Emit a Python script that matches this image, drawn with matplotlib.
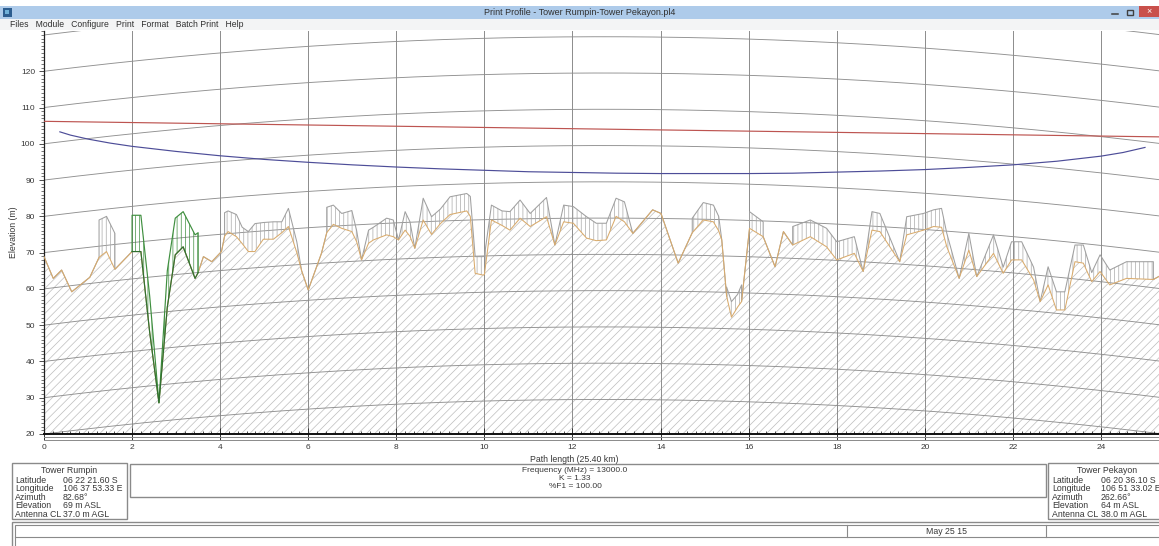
import numpy as np
import matplotlib
matplotlib.use("Agg")
import matplotlib.pyplot as plt
from matplotlib.patches import Rectangle
from matplotlib.lines import Line2D

plt.rcParams['font.family'] = ['Liberation Sans', 'DejaVu Sans']
plt.rcParams['hatch.linewidth'] = 0.5

W, H = 1159, 546

# ---------------- data ----------------
dist_km = [0.00, 0.21, 0.40, 0.63, 1.04, 1.25, 1.25, 1.42, 1.61, 1.61,
           2.00, 2.00, 2.20, 2.40, 2.61, 2.80, 2.98, 3.16, 3.43, 3.50, 3.50,
           3.62, 3.81, 4.03, 4.10, 4.10, 4.18, 4.37, 4.50, 4.64, 4.79, 4.98,
           5.21, 5.40, 5.55, 5.74, 5.85, 6.00, 6.30, 6.42, 6.42, 6.57, 6.76,
           6.99, 7.10, 7.21, 7.37, 7.48, 7.78, 7.93, 8.05, 8.20, 8.31, 8.42,
           8.61, 8.80, 9.00, 9.22, 9.60, 9.68, 9.79, 9.97, 10.00, 10.16,
           10.40, 10.58, 10.81, 11.04, 11.41, 11.60, 11.80, 12.02, 12.32,
           12.54, 12.77, 12.99, 13.18, 13.37, 13.82, 14.01, 14.40, 14.72,
           14.72, 14.97, 15.20, 15.32, 15.39, 15.50, 15.50, 15.61, 15.75,
           15.84, 15.84, 16.02, 16.02, 16.33, 16.33, 16.60, 16.79, 17.00,
           17.00, 17.40, 17.77, 18.00, 18.40, 18.60, 18.80, 18.98, 19.43,
           19.59, 19.97, 20.20, 20.38, 20.50, 20.78, 21.00, 21.18, 21.56,
           21.78, 21.97, 22.20, 22.47, 22.62, 22.80, 22.99, 23.18, 23.41,
           23.60, 23.79, 23.98, 24.20, 24.58, 25.19, 25.19, 25.40]
terrain_m = [68.9, 62.9, 65.2, 59.2, 63.2, 68.7, 68.7, 70.3, 65.4, 65.4,
             70.3, 70.3, 70.3, 48.0, 28.6, 55.0, 69.4, 71.6, 62.9, 64.5, 64.5,
             68.9, 67.5, 70.3, 74.5, 74.5, 75.8, 74.4, 72.5, 70.3, 70.3, 73.7,
             73.7, 75.5, 77.2, 70.0, 65.0, 59.7, 69.8, 75.5, 75.5, 77.8, 76.7,
             75.8, 73.0, 68.0, 72.6, 73.5, 74.9, 74.4, 73.5, 76.2, 74.5, 71.2,
             79.0, 75.0, 78.0, 80.5, 81.5, 80.0, 64.3, 63.8, 64.0, 79.0,
             77.5, 76.2, 79.5, 77.2, 79.9, 72.1, 78.5, 78.1, 74.0,
             73.3, 73.5, 80.0, 78.5, 75.3, 81.8, 80.8, 67.1, 75.5,
             75.5, 79.0, 78.5, 76.0, 73.5, 58.0, 58.0, 52.2, 55.0,
             56.5, 56.5, 76.7, 76.7, 74.4, 74.4, 66.1, 75.8, 72.1,
             72.1, 74.4, 71.6, 68.0, 69.8, 64.8, 76.2, 75.8, 67.5,
             74.9, 76.2, 77.2, 77.0, 71.6, 62.9, 70.7, 63.4, 69.8,
             64.3, 68.0, 68.0, 62.5, 56.5, 61.1, 54.2, 54.2, 67.5,
             67.1, 62.0, 64.8, 61.1, 62.9, 62.6, 62.6, 64.0]
clutter_top_m = [68.9, 62.9, 65.2, 59.2, 63.2, 68.7, 79.0, 80.0, 75.3, 65.4,
                 70.3, 80.3, 80.3, 58.0, 28.6, 65.0, 79.5, 81.3, 74.9, 75.5, 64.5,
                 68.9, 67.5, 70.3, 74.5, 81.0, 81.5, 80.5, 77.0, 75.8, 78.0, 78.3,
                 78.5, 78.5, 82.2, 73.0, 65.0, 59.7, 69.8, 75.5, 82.5, 83.1, 80.8,
                 81.6, 76.0, 68.0, 76.2, 77.0, 79.5, 79.0, 73.5, 81.3, 78.5, 71.2,
                 85.0, 79.9, 82.0, 85.4, 86.3, 85.5, 68.9, 68.9, 69.0, 83.1,
                 81.5, 81.3, 84.5, 80.8, 85.2, 72.1, 83.1, 82.7, 79.9,
                 78.1, 78.1, 85.0, 84.0, 75.3, 81.8, 80.8, 67.1, 75.5,
                 79.5, 83.8, 83.1, 80.0, 73.5, 58.0, 60.5, 56.5, 58.5,
                 61.1, 56.5, 76.7, 81.3, 78.5, 74.4, 66.1, 75.8, 72.1,
                 77.2, 79.0, 76.7, 73.0, 74.4, 64.8, 81.3, 80.8, 67.5,
                 79.9, 80.8, 81.8, 82.2, 75.3, 62.9, 75.3, 63.4, 74.9,
                 66.0, 73.0, 73.0, 66.0, 56.5, 66.1, 59.2, 59.2, 72.1,
                 72.1, 64.5, 69.4, 65.2, 67.5, 67.5, 62.6, 64.0]
green_start_km, green_end_km = 2.0, 3.5

los_km = [0.0, 25.4]
los_m = [106.2, 101.9]

fresnel_km = [0.36, 0.6, 1, 1.5, 2, 3, 4, 5, 6, 7, 8, 9, 10, 11, 12, 13, 14,
              15, 16, 17, 18, 19, 20, 21, 22, 23, 24, 24.5, 25.0]
fresnel_m = [103.3, 102.4, 101.3, 100.2, 99.3, 97.9, 96.7, 95.7, 94.9, 94.2,
             93.6, 93.1, 92.7, 92.3, 92.1, 91.9, 91.8, 91.8, 91.8, 91.9, 92.2,
             92.5, 92.9, 93.5, 94.2, 95.2, 96.6, 97.6, 99.0]

x_ticks = list(range(0, 25, 2))
y_ticks = list(range(20, 121, 10))
path_km = 25.4
k_factor = 1.33

left_site = ["Tower Rumpin", "06 22 21.60 S", "106 37 53.33 E", "82.68\u00b0",
             "69 m ASL", "37.0 m AGL"]
right_site = ["Tower Pekayon", "06 20 36.10 S", "106 51 33.02 E", "262.66\u00b0",
              "64 m ASL", "38.0 m AGL"]
row_labels = ["Latitude", "Longitude", "Azimuth", "Elevation", "Antenna CL"]
center_lines = ["Frequency (MHz) = 13000.0", "K = 1.33", "%F1 = 100.00"]

# ---------------- figure ----------------
fig = plt.figure(figsize=(W / 100, H / 100), dpi=100)
fig.patch.set_facecolor('white')


def fx(px):
    return px / W


def fy(py):
    return 1 - py / H


def frect(x0, y0, x1, y1, **kw):
    fig.add_artist(Rectangle((fx(x0), fy(y1)), fx(x1) - fx(x0), fy(y0) - fy(y1),
                             transform=fig.transFigure, **kw))


def fline(xs, ys, **kw):
    fig.add_artist(Line2D([fx(v) for v in xs], [fy(v) for v in ys],
                          transform=fig.transFigure, **kw))


TXT = '#383838'
FS = 6.3

# window chrome
frect(0, 6, W, 19, facecolor='#aecbea', edgecolor='none')
frect(0, 19, W, 30, facecolor='#f3f4f5', edgecolor='none')
frect(3, 8, 12, 17, facecolor='#2c5d8f', edgecolor='none')
frect(5, 10, 9, 14, facecolor='#6fb0d8', edgecolor='none')
fig.text(fx(580), fy(12.5), "Print Profile - Tower Rumpin-Tower Pekayon.pl4",
         ha='center', va='center', fontsize=6.5, color='#303030')
fig.text(fx(10), fy(24.5), "Files   Module   Configure   Print   Format   Batch Print   Help",
         ha='left', va='center', fontsize=6.2, color='#303030')
fline([1112, 1118], [14, 14], color='#404040', lw=1.1)
frect(1127, 10, 1133, 15, facecolor='none', edgecolor='#404040', lw=1.0)
frect(1139, 6, W, 17, facecolor='#c9504b', edgecolor='none')
fig.text(fx(1149), fy(11.5), "\u00d7", ha='center', va='center', fontsize=6.5, color='white')

# ---------------- profile axes ----------------
ax_left, ax_bottom, ax_top = 44, 434, 31
ax_right = ax_left + 44.04 * path_km
ax = fig.add_axes([fx(ax_left), fy(ax_bottom), fx(ax_right) - fx(ax_left),
                   (ax_bottom - ax_top) / H])
ax.set_xlim(0, path_km)
ax.set_ylim(20, 131.1)
ax.set_facecolor('white')

d = np.asarray(dist_km, dtype=float)
t = np.asarray(terrain_m, dtype=float)
c = np.asarray(clutter_top_m, dtype=float)
green = (d >= green_start_km) & (d <= green_end_km)
c_gray = np.where(green, t, c)

# earth-curvature grid lines (K factor)
xx = np.linspace(0, path_km, 300)
bulge = xx * (path_km - xx) / (12.74 * k_factor)
for lev in range(0, 140, 10):
    ax.plot(xx, lev + bulge, color='#909090', lw=0.65, zorder=1.5)
for xv in x_ticks[1:]:
    ax.axvline(xv, color='#8c8c8c', lw=0.7, zorder=1.5)

# terrain hatched body
ax.fill_between(d, 0, t, facecolor='none', edgecolor='#bdbdbd', hatch='////',
                linewidth=0, zorder=1)
# clutter (gray)
ax.fill_between(d, t, c_gray, facecolor='none', edgecolor='#a9a9a9', hatch='||||',
                linewidth=0, zorder=2)
ax.plot(d, c_gray, color='#a0a0a0', lw=0.75, zorder=2.5)
# terrain line
ax.plot(d, t, color='#d9ab6c', lw=0.75, zorder=3)
# clutter (green)
ax.fill_between(d[green], t[green], c[green], facecolor='none', edgecolor='#3f8f3f',
                hatch='||||', linewidth=0, zorder=3.2)
ax.plot(d[green], c[green], color='#3f8f3f', lw=0.85, zorder=3.4)
ax.plot(d[green], t[green], color='#2f6f2f', lw=0.85, zorder=3.5)

# line of sight and Fresnel zone
ax.plot(los_km, los_m, color='#bd5450', lw=0.85, zorder=4)
ax.plot(fresnel_km, fresnel_m, color='#4d4d98', lw=0.85, zorder=4)

# axes styling
for s in ['top', 'right']:
    ax.spines[s].set_visible(False)
ax.spines['left'].set_color('#202020')
ax.spines['left'].set_linewidth(0.9)
ax.spines['bottom'].set_color('#101010')
ax.spines['bottom'].set_linewidth(1.4)
ax.set_yticks(y_ticks)
ax.set_yticks(np.arange(20, 131.1, 1), minor=True)
ax.set_xticks(x_ticks)
ax.set_xticks(np.arange(0, path_km, 0.2), minor=True)
ax.tick_params(axis='y', which='major', direction='out', length=3.5, width=0.6,
               color='#303030', labelsize=6.0, labelcolor=TXT, pad=3)
ax.tick_params(axis='y', which='minor', direction='out', length=2.2, width=0.5,
               color='#404040')
ax.tick_params(axis='x', which='major', direction='inout', length=8, width=0.7,
               color='#303030', labelsize=6.0, labelcolor=TXT, pad=3)
ax.tick_params(axis='x', which='minor', direction='in', length=2.5, width=0.6,
               color='#303030')

# ruler band below the x axis
fline([ax_left, W], [437.2, 437.2], color='#8a8a8a', lw=0.7)
fline([ax_left, W], [440.0, 440.0], color='#8a8a8a', lw=0.7)

fig.text(fx(13), fy(232), "Elevation (m)", rotation=90, ha='center', va='center',
         fontsize=FS, color=TXT)
fig.text(fx(574), fy(459), "Path length (25.40 km)", ha='center', va='center',
         fontsize=FS, color=TXT)

# ---------------- info panels ----------------
BOX = '#8a8a8a'
frect(12, 463, 127, 519, facecolor='none', edgecolor=BOX, lw=1.0)
frect(129.5, 464, 1045.5, 497, facecolor='none', edgecolor=BOX, lw=1.0)
frect(1048, 463, 1175, 519, facecolor='none', edgecolor=BOX, lw=1.0)

rows_y = [480.5, 488.9, 497.3, 505.7, 514.1]
fig.text(fx(69), fy(470.5), left_site[0], ha='center', va='center', fontsize=FS, color=TXT)
fig.text(fx(1107), fy(470.5), right_site[0], ha='center', va='center', fontsize=FS, color=TXT)
for i, lab in enumerate(row_labels):
    fig.text(fx(15), fy(rows_y[i]), lab, ha='left', va='center', fontsize=FS, color=TXT)
    fig.text(fx(63), fy(rows_y[i]), left_site[i + 1], ha='left', va='center', fontsize=FS, color=TXT)
    fig.text(fx(1052), fy(rows_y[i]), lab, ha='left', va='center', fontsize=FS, color=TXT)
    fig.text(fx(1101), fy(rows_y[i]), right_site[i + 1], ha='left', va='center', fontsize=FS, color=TXT)

for i, line in enumerate(center_lines):
    fig.text(fx(575), fy(471.0 + 7.6 * i), line, ha='center', va='center',
             fontsize=6.0, color=TXT)

# bottom print strip
frect(12, 522, 1180, 560, facecolor='none', edgecolor=BOX, lw=1.0)
frect(15, 525, 1180, 560, facecolor='none', edgecolor=BOX, lw=0.8)
fline([15, W], [536.7, 536.7], color=BOX, lw=0.8)
fline([847, 847], [525, 536.7], color=BOX, lw=0.8)
fline([1046, 1046], [525, 536.7], color=BOX, lw=0.8)
fig.text(fx(946), fy(531), "May 25 15", ha='center', va='center', fontsize=FS, color=TXT)

fig.savefig("out.png", dpi=100, facecolor='white')
